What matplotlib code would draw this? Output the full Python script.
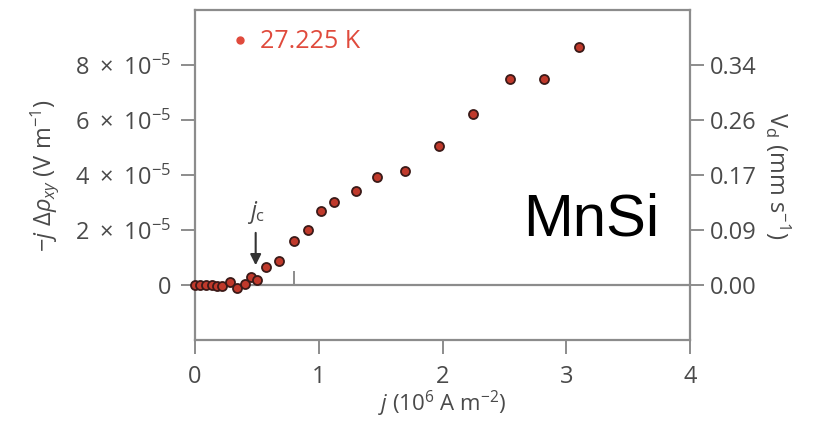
import matplotlib.pyplot as plt
from matplotlib.lines import Line2D

plt.rcParams['font.family'] = ['Open Sans', 'DejaVu Sans']
plt.rcParams['mathtext.fontset'] = 'custom'
plt.rcParams['mathtext.rm'] = 'Open Sans'
plt.rcParams['mathtext.it'] = 'Open Sans:italic'
plt.rcParams['mathtext.bf'] = 'Open Sans:bold'

# current density j (10^6 A m^-2) and -j*delta rho_xy (1e-5 V m^-1)
j = [0.0, 0.04, 0.09, 0.135, 0.18, 0.22, 0.28, 0.34, 0.40, 0.45, 0.50,
     0.57, 0.68, 0.80, 0.91, 1.02, 1.12, 1.30, 1.47, 1.70, 1.97, 2.25,
     2.545, 2.82, 3.10]
signal = [0.0, 0.0, 0.0, 0.0, -0.02, -0.05, 0.12, -0.1, 0.03, 0.3, 0.18,
          0.67, 0.87, 1.6, 2.02, 2.69, 3.03, 3.44, 3.94, 4.16, 5.07, 6.23,
          7.48, 7.48, 8.67]
left_ticks = [0, 2e-5, 4e-5, 6e-5, 8e-5]
left_labels = ['0', r'$2\ \times\ 10^{-5}$', r'$4\ \times\ 10^{-5}$',
               r'$6\ \times\ 10^{-5}$', r'$8\ \times\ 10^{-5}$']
right_labels = ['0.00', '0.09', '0.17', '0.26', '0.34']
vd_per_unit = 4250  # mm s^-1 per (V m^-1)

gray = '#8c8c8c'
txt = '#4a4a4a'
red = '#e04a3c'
fs = 17

fig = plt.figure(figsize=(8.24, 4.24), dpi=100)
ax = fig.add_axes([0.2367, 0.198, 0.6007, 0.778])

yvals = [v * 1e-5 for v in signal]
ax.axhline(0, color=gray, lw=1.6, zorder=1)
ax.vlines(0.8, 0, 0.5e-5, color=gray, lw=1.4, zorder=1)
ax.plot(j, yvals, 'o', ms=6.5, mfc='#c0392b', mec='#3b1a18', mew=1.3,
        zorder=3, clip_on=False)

ax.set_xlim(0, 4)
ax.set_ylim(-2e-5, 10e-5)
ax.set_xticks([0, 1, 2, 3, 4])
ax.set_yticks(left_ticks)
ax.set_yticklabels(left_labels)

for s in ax.spines.values():
    s.set_color(gray)
    s.set_linewidth(1.6)
ax.tick_params(colors=gray, labelcolor=txt, labelsize=fs, length=10, width=1.4)
ax.tick_params(axis='y', pad=7)
ax.tick_params(axis='x', pad=8)

ax.set_xlabel(r'$j$ (10$^{6}$ A m$^{-2}$)', color=txt, fontsize=16, labelpad=0)
ax.set_ylabel(r'$-j\ \Delta\rho_{xy}$ (V m$^{-1}$)', color=txt, fontsize=fs,
              labelpad=10)

ax2 = ax.twinx()
lo, hi = ax.get_ylim()
ax2.set_ylim(lo * vd_per_unit, hi * vd_per_unit)
ax2.set_yticks([t * vd_per_unit for t in left_ticks])
ax2.set_yticklabels(right_labels)
for s in ax2.spines.values():
    s.set_visible(False)
ax2.tick_params(colors=gray, labelcolor=txt, labelsize=fs, length=10, width=1.4,
                pad=4)
ax2.set_ylabel(r'V$_{\rm d}$ (mm s$^{-1}$)', color=txt, fontsize=fs,
               rotation=270, labelpad=26)

# jc arrow
ax.annotate('', xy=(0.49, 0.62e-5), xytext=(0.49, 2.0e-5),
            arrowprops=dict(arrowstyle='-|>', color='#333333', lw=1.5,
                            mutation_scale=16))
ax.text(0.49, 2.65e-5, r'$j_{\rm c}$', color=txt, fontsize=fs,
        ha='center', va='center')

handle = Line2D([], [], marker='o', ls='', color=red, ms=5)
leg = ax.legend([handle], ['27.225 K'], loc='upper left', frameon=False,
                fontsize=18, labelcolor=red, handletextpad=0.3,
                handlelength=1.0, bbox_to_anchor=(0.02, 1.01))

fig.text(0.717, 0.48, 'MnSi', fontsize=43, family='Liberation Sans',
         color='black', ha='center', va='center')

fig.savefig('out.png', dpi=100)
